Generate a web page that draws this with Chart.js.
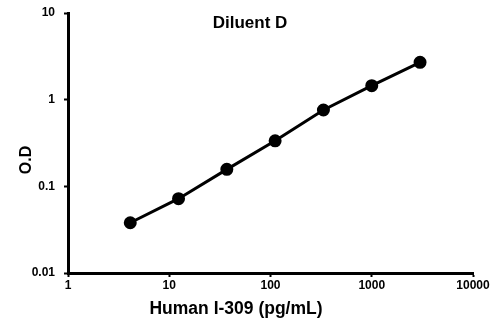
<!DOCTYPE html>
<html><head><meta charset="utf-8">
<script src="https://cdn.jsdelivr.net/npm/chart.js@4/dist/chart.umd.min.js"></script>
<style>html,body{margin:0;padding:0;background:#fff}#wrap{width:500px;height:322px}</style>
</head><body><div id="wrap"><canvas id="c" width="500" height="322"></canvas></div>
<script>
const concentrations = [4.12, 12.35, 37.04, 111.1, 333.3, 1000, 3000];
const odValues = [0.038, 0.072, 0.157, 0.335, 0.76, 1.45, 2.7];
const xTicks = [1, 10, 100, 1000, 10000];
const yTicks = [0.01, 0.1, 1, 10];
const titleText = 'Diluent D';
const xTitle = 'Human I-309 (pg/mL)';
const yTitle = 'O.D';

const FONT = '"Liberation Sans", Arial, sans-serif';
const textPlugin = {
  id: 'texts',
  afterDraw(chart) {
    const ctx = chart.ctx;
    ctx.save();
    ctx.fillStyle = '#000';
    ctx.textAlign = 'center';
    ctx.textBaseline = 'middle';
    ctx.font = 'bold 17px ' + FONT;
    ctx.fillText(titleText, 250, 23);
    ctx.font = 'bold 17.5px ' + FONT;
    ctx.fillText(xTitle, 236, 309);
    ctx.translate(27, 160);
    ctx.rotate(-Math.PI / 2);
    ctx.font = 'bold 16px ' + FONT;
    ctx.fillText(yTitle, 0, 0);
    ctx.restore();
  }
};

new Chart(document.getElementById('c'), {
  type: 'scatter',
  data: {
    datasets: [{
      data: concentrations.map((x, i) => ({x: x, y: odValues[i]})),
      showLine: true,
      borderColor: '#000',
      backgroundColor: '#000',
      borderWidth: 3,
      pointRadius: 5,
      pointHoverRadius: 5,
      tension: 0
    }]
  },
  options: {
    responsive: false,
    animation: false,
    devicePixelRatio: 1,
    layout: {padding: {top: 13, right: 27, left: 0, bottom: 0}},
    plugins: {legend: {display: false}, tooltip: {enabled: false}},
    scales: {
      x: {
        type: 'logarithmic', min: 1, max: 10000,
        afterBuildTicks: a => { a.ticks = xTicks.map(v => ({value: v})); },
        afterFit: s => { s.height = 49; s.paddingLeft = 0; s.paddingRight = 0; },
        grid: {drawOnChartArea: false, tickLength: 4, tickColor: '#000', tickWidth: 2},
        border: {color: '#000', width: 3},
        ticks: {color: '#000', font: {family: FONT, size: 12, weight: 'bold'}, padding: 1, maxRotation: 0, autoSkip: false,
          callback: v => String(v)},
        title: {display: false}
      },
      y: {
        type: 'logarithmic', min: 0.01, max: 10,
        afterBuildTicks: a => { a.ticks = yTicks.map(v => ({value: v})); },
        afterFit: s => { s.width = 68; s.paddingTop = 0; s.paddingBottom = 0; },
        grid: {drawOnChartArea: false, tickLength: 4, tickColor: '#000', tickWidth: 2},
        border: {color: '#000', width: 3},
        ticks: {color: '#000', font: {family: FONT, size: 12, weight: 'bold'}, padding: 9, autoSkip: false,
          callback: v => String(v)},
        title: {display: false}
      }
    }
  },
  plugins: [textPlugin]
});
</script></body></html>
